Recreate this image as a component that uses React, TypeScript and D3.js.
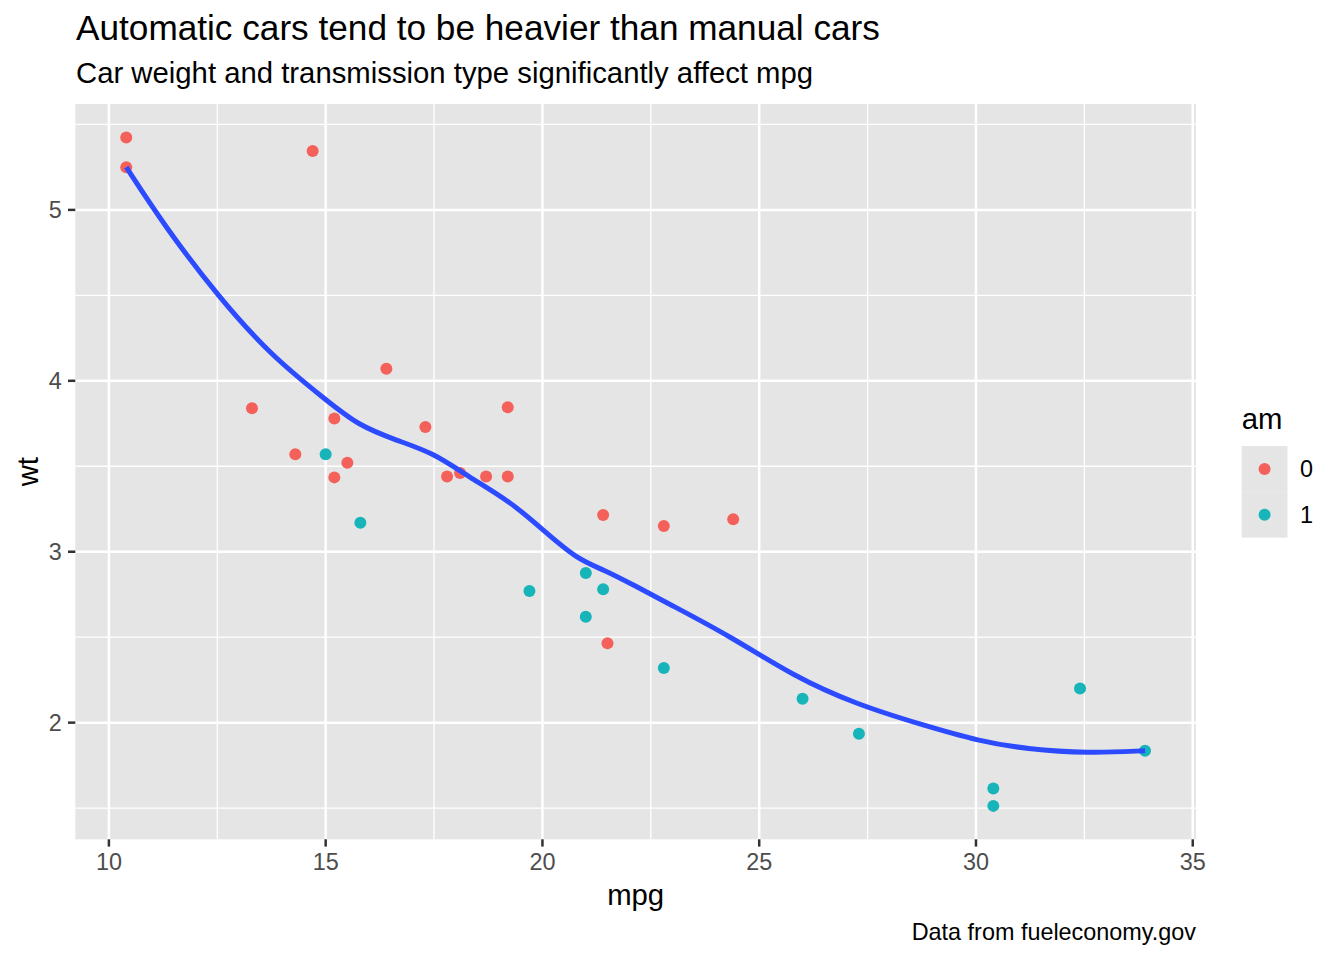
import * as d3 from 'd3';

// mtcars: mpg, wt, am
const mpg = [21.0, 21.0, 22.8, 21.4, 18.7, 18.1, 14.3, 24.4, 22.8, 19.2, 17.8, 16.4, 17.3, 15.2, 10.4, 10.4,
  14.7, 32.4, 30.4, 33.9, 21.5, 15.5, 15.2, 13.3, 19.2, 27.3, 26.0, 30.4, 15.8, 19.7, 15.0, 21.4];
const wt = [2.620, 2.875, 2.320, 3.215, 3.440, 3.460, 3.570, 3.190, 3.150, 3.440, 3.440, 4.070, 3.730, 3.780,
  5.250, 5.424, 5.345, 2.200, 1.615, 1.835, 2.465, 3.520, 3.435, 3.840, 3.845, 1.935, 2.140, 1.513, 3.170,
  2.770, 3.570, 2.780];
const am = [1, 1, 1, 0, 0, 0, 0, 0, 0, 0, 0, 0, 0, 0, 0, 0, 0, 1, 1, 1, 0, 0, 0, 0, 0, 1, 1, 1, 1, 1, 1, 1];

// smoother
const smoothMpg = [10.4, 11.3, 12.53, 13.77, 15.0, 15.74, 16.65, 17.47, 18.29, 19.28, 20.0, 20.8, 21.42,
  22.14, 22.88, 24.34, 25.8, 27.26, 28.72, 30.09, 31.16, 32.58, 33.9];
const smoothWt = [5.25, 4.90, 4.49, 4.14, 3.89, 3.74, 3.65, 3.58, 3.44, 3.29, 3.13, 2.955, 2.895,
  2.80, 2.70, 2.505, 2.27, 2.105, 1.99, 1.89, 1.846, 1.82, 1.836];

const amLevels = ['0', '1'];
const amColors = ['#F4615B', '#17B5B9'];
const xBreaks = [10, 15, 20, 25, 30, 35];
const xMinor = [12.5, 17.5, 22.5, 27.5, 32.5];
const yBreaks = [2, 3, 4, 5];
const yMinor = [1.5, 2.5, 3.5, 4.5, 5.5];

const W = 1344;
const H = 960;
const panel = { left: 75.3, right: 1196, top: 104, bottom: 839.3 };
const font = '"Liberation Sans", Arial, Helvetica, sans-serif';
const tickSize = 23.4;

export default function App() {
  const xr = d3.extent(mpg) as [number, number];
  const yr = d3.extent(wt) as [number, number];
  const xe = (xr[1] - xr[0]) * 0.05;
  const ye = (yr[1] - yr[0]) * 0.05;
  const x = d3.scaleLinear().domain([xr[0] - xe, xr[1] + xe]).range([panel.left, panel.right]);
  const y = d3.scaleLinear().domain([yr[0] - ye, yr[1] + ye]).range([panel.bottom, panel.top]);

  const line = d3.line<number>()
    .x((d) => x(smoothMpg[d]))
    .y((d) => y(smoothWt[d]))
    .curve(d3.curveBasis);

  const pw = panel.right - panel.left;
  const ph = panel.bottom - panel.top;
  const cx = (panel.left + panel.right) / 2;
  const cy = (panel.top + panel.bottom) / 2;

  const legX = 1241.7;
  const legY = 446;
  const key = 45.8;

  return (
    <svg width={W} height={H} style={{ position: 'absolute', left: 0, top: 0, background: '#fff' }}
      fontFamily={font}>
      <rect x={0} y={0} width={W} height={H} fill="#fff" />
      <text x={76} y={40} fontSize={35.2} fill="#000">Automatic cars tend to be heavier than manual cars</text>
      <text x={76} y={82.7} fontSize={29.3} fill="#000">Car weight and transmission type significantly affect mpg</text>

      <rect x={panel.left} y={panel.top} width={pw} height={ph} fill="#E5E5E5" />
      {xMinor.map((v) => (
        <line key={'xm' + v} x1={x(v)} x2={x(v)} y1={panel.top} y2={panel.bottom} stroke="#fff" strokeWidth={1.3} />
      ))}
      {yMinor.map((v) => (
        <line key={'ym' + v} x1={panel.left} x2={panel.right} y1={y(v)} y2={y(v)} stroke="#fff" strokeWidth={1.3} />
      ))}
      {xBreaks.map((v) => (
        <line key={'xM' + v} x1={x(v)} x2={x(v)} y1={panel.top} y2={panel.bottom} stroke="#fff" strokeWidth={2.5} />
      ))}
      {yBreaks.map((v) => (
        <line key={'yM' + v} x1={panel.left} x2={panel.right} y1={y(v)} y2={y(v)} stroke="#fff" strokeWidth={2.5} />
      ))}

      {mpg.map((m, i) => (
        <circle key={'p' + i} cx={x(m)} cy={y(wt[i])} r={6} fill={amColors[am[i]]} />
      ))}
      <path d={line(d3.range(smoothMpg.length)) || ''} fill="none" stroke="#2C4BFF" strokeWidth={5} />

      {xBreaks.map((v) => (
        <g key={'xt' + v}>
          <line x1={x(v)} x2={x(v)} y1={panel.bottom} y2={panel.bottom + 7.3} stroke="#333333" strokeWidth={2.5} />
          <text x={x(v)} y={870} fontSize={tickSize} fill="#4D4D4D" textAnchor="middle">{v}</text>
        </g>
      ))}
      {yBreaks.map((v) => (
        <g key={'yt' + v}>
          <line x1={panel.left - 7.3} x2={panel.left} y1={y(v)} y2={y(v)} stroke="#333333" strokeWidth={2.5} />
          <text x={61.7} y={y(v) + 8.4} fontSize={tickSize} fill="#4D4D4D" textAnchor="end">{v}</text>
        </g>
      ))}

      <text x={cx} y={905} fontSize={29.3} textAnchor="middle" fill="#000">mpg</text>
      <text transform={`translate(38,${cy}) rotate(-90)`} fontSize={29.3} textAnchor="middle" fill="#000">wt</text>

      <text x={legX} y={429} fontSize={29.3} fill="#000">am</text>
      {amLevels.map((lv, i) => (
        <g key={'lg' + lv}>
          <rect x={legX} y={legY + i * key} width={key} height={key} fill="#E5E5E5" />
          <circle cx={legX + key / 2} cy={legY + i * key + key / 2} r={6} fill={amColors[i]} />
          <text x={1300} y={legY + i * key + key / 2 + 8.4} fontSize={tickSize} fill="#000">{lv}</text>
        </g>
      ))}

      <text x={panel.right} y={940} fontSize={tickSize} textAnchor="end" fill="#000">Data from fueleconomy.gov</text>
    </svg>
  );
}
